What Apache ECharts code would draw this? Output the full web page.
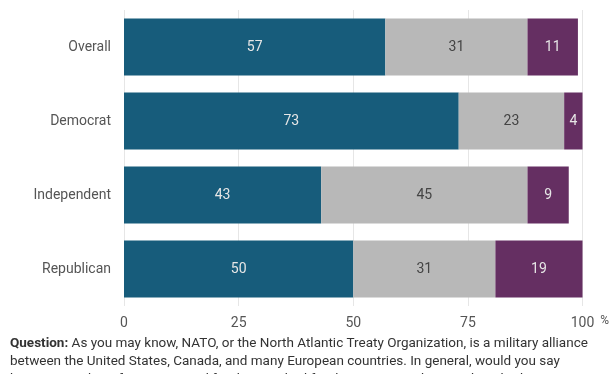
<!DOCTYPE html>
<html><head><meta charset="utf-8">
<script src="https://cdn.jsdelivr.net/npm/echarts@6/dist/echarts.min.js"></script>
<style>html,body{margin:0;padding:0;background:#fff}#c{width:612px;height:374px}</style>
</head><body><div id="c"></div>
<script>
const categories = ['Overall', 'Democrat', 'Independent', 'Republican'];
const goodValues = [57, 73, 43, 50];
const neitherValues = [31, 23, 45, 31];
const badValues = [11, 4, 9, 19];
const xTicks = [0, 25, 50, 75, 100];
const captionLines = [
  'As you may know, NATO, or the North Atlantic Treaty Organization, is a military alliance',
  'between the United States, Canada, and many European countries. In general, would you say',
  'being a member of NATO is good for the U.S., bad for the U.S., or neither good nor bad?'
];

const chart = echarts.init(document.getElementById('c'), null, {renderer: 'canvas'});
const font = 'Roboto';
function mk(name, data, color, labelColor) {
  return {
    name, type: 'bar', stack: 'all', data,
    barCategoryGap: '23%',
    itemStyle: {color},
    label: {show: true, position: 'inside', color: labelColor, fontFamily: font, fontSize: 14},
    emphasis: {disabled: true}
  };
}
chart.setOption({
  animation: false,
  textStyle: {fontFamily: font},
  grid: {left: 124, right: 29, top: 10, bottom: 68},
  xAxis: {
    type: 'value', min: 0, max: 100, interval: 25,
    axisLine: {show: false}, axisTick: {show: false},
    splitLine: {show: true, lineStyle: {color: '#e6e6e6', width: 1}},
    axisLabel: {color: '#555', fontSize: 14, fontFamily: font, margin: 10,
      formatter: v => xTicks.includes(v) ? String(v) : ''},
    name: '%', nameLocation: 'end', nameGap: 11,
    nameTextStyle: {color: '#555', fontSize: 12, fontFamily: font, verticalAlign: 'top', align: 'left', padding: [9, 0, 0, 0]}
  },
  yAxis: {
    type: 'category', data: categories, inverse: true,
    axisLine: {show: false}, axisTick: {show: false},
    axisLabel: {color: '#555', fontSize: 14, fontFamily: font, margin: 13}
  },
  series: [
    mk('Good', goodValues, '#175c7b', '#e6e6e6'),
    mk('Neither', neitherValues, '#b8b8b8', '#444'),
    mk('Bad', badValues, '#652f62', '#e6e6e6')
  ],
  graphic: [{
    type: 'text', left: 10, top: 335,
    style: {
      text: '{b|Question:} ' + captionLines[0] + '\n' + captionLines[1] + '\n' + captionLines[2],
      fill: '#333', fontFamily: font, fontSize: 13.5, lineHeight: 18,
      rich: {b: {fontWeight: 'bold', fontFamily: font, fontSize: 13.5, fill: '#333', lineHeight: 18}}
    }
  }]
});
</script></body></html>
